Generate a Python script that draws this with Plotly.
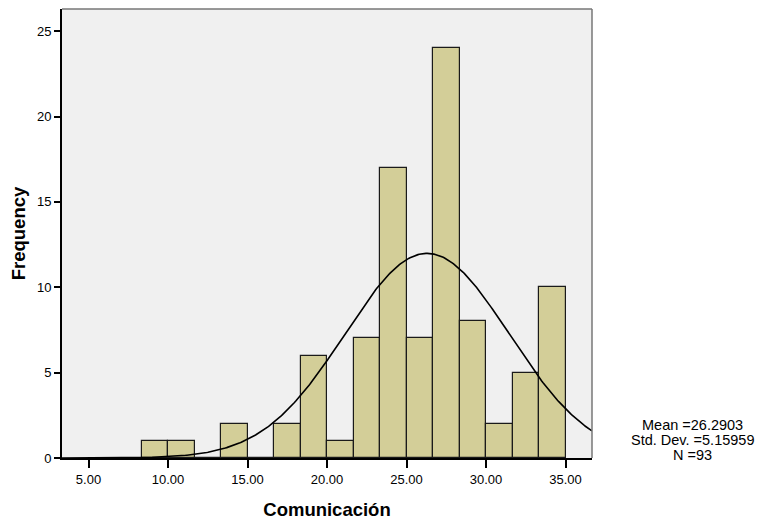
import numpy as np
import plotly.graph_objects as go

# Data
bin_start = 8.3333
bin_width = 1.6667
counts = [1, 1, 0, 2, 0, 2, 6, 1, 7, 17, 7, 24, 8, 2, 5, 10]
mean_val = 26.2903
std_val = 5.15959
n_val = 93
x_ticks = [5, 10, 15, 20, 25, 30, 35]
x_tick_labels = ["5.00", "10.00", "15.00", "20.00", "25.00", "30.00", "35.00"]
y_ticks = [0, 5, 10, 15, 20, 25]

centers = [bin_start + bin_width * (i + 0.5) for i in range(len(counts))]

xs = np.linspace(3.3333, 36.6667, 400)
ys = n_val * bin_width * np.exp(-0.5 * ((xs - mean_val) / std_val) ** 2) / (std_val * np.sqrt(2 * np.pi))

fig = go.Figure()
fig.add_trace(go.Bar(
    x=centers, y=counts, width=[bin_width] * len(counts),
    marker=dict(color="#D3CE98", line=dict(color="#1a1a1a", width=1.2)),
    hoverinfo="x+y", showlegend=False,
))
fig.add_trace(go.Scatter(
    x=xs, y=ys, mode="lines", line=dict(color="black", width=1.6),
    showlegend=False, hoverinfo="skip",
))

font_family = "Liberation Sans, Arial, sans-serif"
stat_lines = [f"Mean ={mean_val}", f"Std. Dev. ={std_val}", f"N ={n_val}"]
stat_shifts = [33, 18.5, 3.5]
annotations = [
    dict(text=t, xref="paper", yref="paper", x=1.0, y=0.0, xshift=100.5, yshift=s,
         xanchor="center", yanchor="middle", showarrow=False,
         font=dict(size=14.5, family=font_family, color="black"))
    for t, s in zip(stat_lines, stat_shifts)
]

fig.update_layout(
    width=764, height=525,
    margin=dict(l=62, r=172, t=9, b=67),
    paper_bgcolor="white", plot_bgcolor="#F0F0F0",
    bargap=0,
    font=dict(family=font_family, size=13, color="black"),
    xaxis=dict(
        range=[3.3333, 36.6667], tickvals=x_ticks, ticktext=x_tick_labels,
        showgrid=False, zeroline=False, showline=True, linecolor="black", linewidth=2,
        ticks="outside", ticklen=8, tickwidth=2, tickcolor="black",
        tickfont=dict(size=13, family=font_family),
        title=dict(text="<b>Comunicación</b>", font=dict(size=18.5, family=font_family), standoff=17),
    ),
    yaxis=dict(
        range=[0, 26.3], tickvals=y_ticks,
        showgrid=False, zeroline=False, showline=True, linecolor="black", linewidth=2,
        ticks="outside", ticklen=6, tickwidth=2, tickcolor="black",
        tickfont=dict(size=13, family=font_family),
        title=dict(text="<b>Frequency</b>", font=dict(size=18.5, family=font_family), standoff=6),
    ),
    shapes=[
        dict(type="line", xref="paper", yref="paper", x0=0, x1=1, y0=1, y1=1,
             line=dict(color="#777777", width=1.5), layer="above"),
        dict(type="line", xref="paper", yref="paper", x0=1, x1=1, y0=0, y1=1,
             line=dict(color="#777777", width=1.5), layer="above"),
    ],
    annotations=annotations,
)

fig.write_html("out.html")
